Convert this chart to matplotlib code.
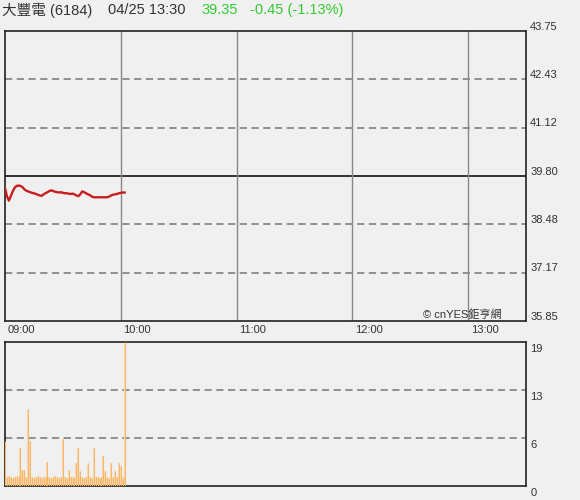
import numpy as np
import matplotlib
matplotlib.use("Agg")
import matplotlib.pyplot as plt

plt.rcParams["font.family"] = ["Liberation Sans", "Noto Sans CJK TC", "DejaVu Sans"]

# ===================== 数据 =====================
stock_name = "大豐電"
stock_code = "6184"
quote_time = "04/25 13:30"
last_price = 39.35
change = -0.45
change_pct = -1.13
prev_close = 39.80
price_ticks = [35.85, 37.17, 38.48, 39.80, 41.12, 42.43, 43.75]
vol_ticks = [0, 6, 13, 19]
time_labels = ["09:00", "10:00", "11:00", "12:00", "13:00"]

# 每分钟价格 09:00 ~ 10:02
prices = [39.47, 39.25, 39.13, 39.25, 39.38, 39.48, 39.53, 39.54, 39.53, 39.50,
          39.44, 39.40, 39.38, 39.36, 39.34, 39.33, 39.31, 39.29, 39.27, 39.26,
          39.30, 39.33, 39.36, 39.39, 39.41, 39.39, 39.37, 39.36, 39.35, 39.36,
          39.34, 39.33, 39.33, 39.32, 39.31, 39.32, 39.30, 39.27, 39.25, 39.30,
          39.38, 39.36, 39.33, 39.30, 39.28, 39.24, 39.22, 39.22, 39.22, 39.22,
          39.22, 39.22, 39.22, 39.22, 39.24, 39.27, 39.29, 39.30, 39.31, 39.33,
          39.34, 39.35, 39.35]

# 每分钟成交量
volumes = [6, 1.2, 1.3, 1.2, 1.1, 1.2, 1.3, 1.2, 5, 2.1,
           2.1, 1.2, 10.2, 6, 1.2, 1.1, 1.2, 1.3, 1.2, 1.1,
           1.2, 1.2, 3.2, 1.2, 1.1, 1.2, 1.3, 1.2, 1.1, 1.2,
           6.2, 1.2, 1.1, 2.1, 1.2, 1.2, 1.1, 3, 5, 2,
           1.2, 1.1, 1.2, 3.1, 1.2, 1.1, 5, 1.2, 1.2, 1.1,
           1.2, 4, 2, 1.2, 1.1, 3.1, 1.2, 2, 1.2, 3.1,
           2.7, 1.2, 19]

# ===================== 绘图 =====================
BG = "#f0f0f0"
W, H = 580, 500
fig = plt.figure(figsize=(W / 100, H / 100), dpi=100, facecolor=BG)

def box(x0, y0, x1, y1):
    return [x0 / W, 1 - y1 / H, (x1 - x0) / W, (y1 - y0) / H]

ax = fig.add_axes(box(5, 31, 526, 321), facecolor=BG)
axv = fig.add_axes(box(5, 342, 526, 486), facecolor=BG)

minutes = np.arange(len(prices))
xmax = 270  # 09:00 ~ 13:30

# 价格
for p in price_ticks[1:-1]:
    if abs(p - prev_close) < 1e-6:
        ax.axhline(p, color="#222222", lw=1.3, zorder=1)
    else:
        ax.axhline(p, color="#888888", lw=1.3, ls=(0, (4, 2.5)), zorder=1)
for h in range(1, 5):
    ax.axvline(h * 60, color="#888888", lw=1.0, zorder=1)
ax.plot(minutes, prices, color="#c81e1e", lw=1.7, zorder=3)
ax.set_xlim(0, xmax)
ax.set_ylim(price_ticks[0], price_ticks[-1])
ax.set_xticks([])
ax.set_yticks([])
for s in ax.spines.values():
    s.set_color("#222222")
    s.set_linewidth(1.2)
for p in price_ticks:
    ax.annotate(f"{p:.2f}", xy=(1, p), xycoords=("axes fraction", "data"),
                xytext=(3, 3), textcoords="offset points", ha="left", va="center",
                fontsize=8, color="#333333", annotation_clip=False)
for i, lab in enumerate(time_labels):
    ax.annotate(lab, xy=(i * 60, 0), xycoords=("data", "axes fraction"),
                xytext=(2, -3), textcoords="offset points", ha="left", va="top",
                fontsize=8, color="#333333", annotation_clip=False)
ax.text(0.954, 0.004, "© cnYES鉅亨網", transform=ax.transAxes, ha="right",
        va="bottom", fontsize=8, color="#333333")

# 成交量
vmax = 19
for v in [vmax / 3, vmax * 2 / 3]:
    axv.axhline(v, color="#888888", lw=1.3, ls=(0, (4, 2.5)), zorder=1)
axv.bar(minutes, volumes, width=1.0, color="#fcd8b0", zorder=2)
axv.vlines(minutes, 0, volumes, color="#f5b86a", lw=0.8, zorder=3)
axv.set_xlim(0, xmax)
axv.set_ylim(0, vmax)
axv.set_xticks([])
axv.set_yticks([])
for s in axv.spines.values():
    s.set_color("#222222")
    s.set_linewidth(1.2)
for v, lab in zip([0, vmax / 3, vmax * 2 / 3, vmax], vol_ticks):
    axv.annotate(str(lab), xy=(1, v), xycoords=("axes fraction", "data"),
                 xytext=(3, -5), textcoords="offset points", ha="left", va="center",
                 fontsize=8, color="#333333", annotation_clip=False)

# 标题
fig.text(2 / W, 1 - 10 / H, f"{stock_name} ({stock_code})", fontsize=10.5,
         color="#333333", va="center", ha="left")
fig.text(108 / W, 1 - 10 / H, quote_time, fontsize=10.5, color="#333333",
         va="center", ha="left")
fig.text(201 / W, 1 - 10 / H, f"{last_price:.2f}", fontsize=10.5, color="#33cc33",
         va="center", ha="left")
fig.text(250 / W, 1 - 10 / H, f"{change:.2f} ({change_pct:.2f}%)", fontsize=10.5,
         color="#33cc33", va="center", ha="left")

fig.savefig("out.png", dpi=100, facecolor=BG)
